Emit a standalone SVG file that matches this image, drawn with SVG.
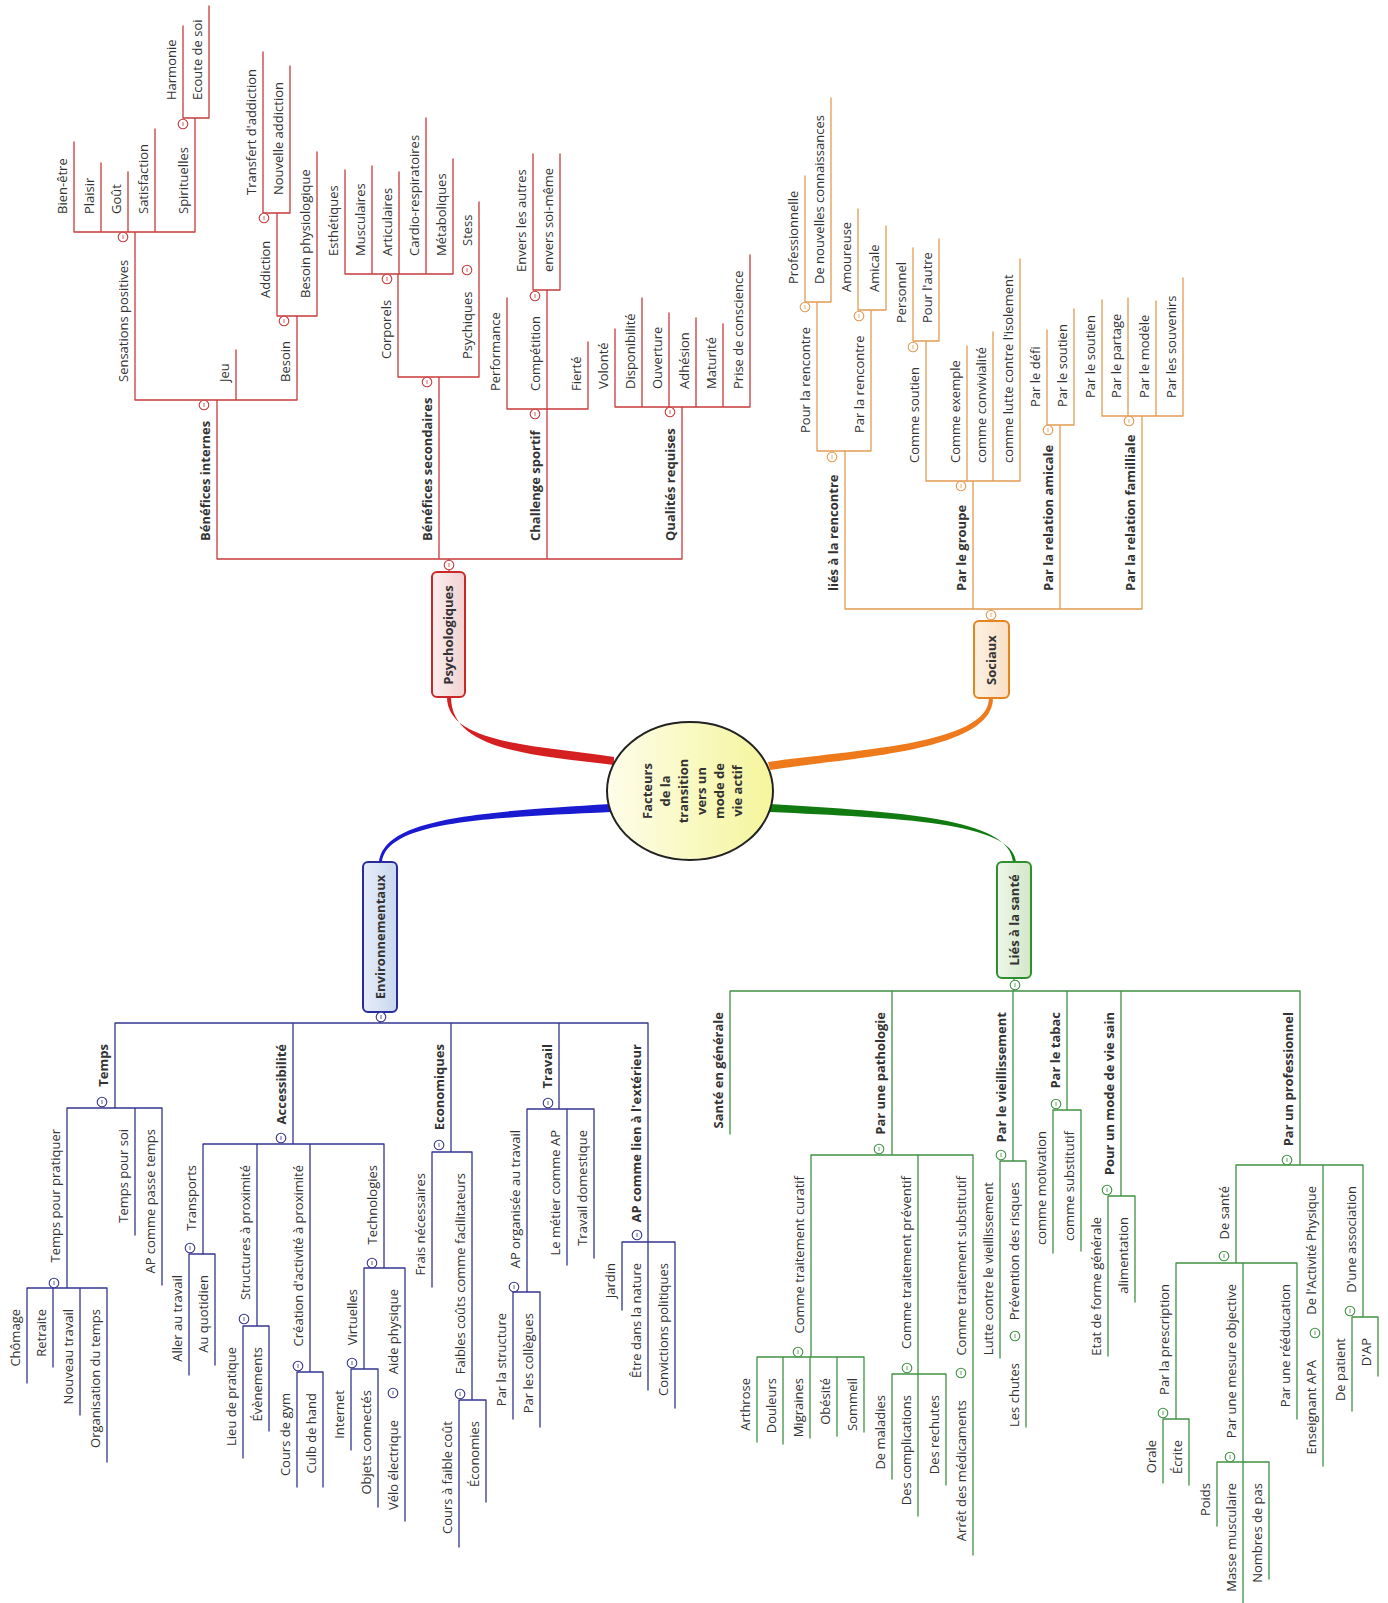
<svg xmlns="http://www.w3.org/2000/svg" xmlns:xlink="http://www.w3.org/1999/xlink" width="1388" height="1603" viewBox="0 0 1388 1603">
<style>
text{font-family:"Open Sans","DejaVu Sans",sans-serif;font-size:13px;fill:#333}
.b{font-weight:bold}
.e{text-anchor:end}
.m{text-anchor:middle}
.red{color:#c83a3a}.org{color:#e39a52}.blu{color:#35358f}.grn{color:#3f9142}
.ln path{fill:none;stroke-width:1.3;stroke-linecap:round}
</style>
<defs>
<g id="cm"><circle r="4.8" fill="#fff" stroke="currentColor" stroke-width="1.1"/><line x1="0" y1="-2" x2="0" y2="2" stroke="currentColor" stroke-width="0.8"/></g>
<linearGradient id="gc" x1="0" y1="0" x2="1" y2="0"><stop offset="0" stop-color="#fdfdea"/><stop offset="1" stop-color="#f5f59c"/></linearGradient>
<linearGradient id="gr" x1="0" y1="0" x2="1" y2="0"><stop offset="0" stop-color="#fbeeee"/><stop offset="1" stop-color="#f1d2d2"/></linearGradient>
<linearGradient id="go" x1="0" y1="0" x2="1" y2="0"><stop offset="0" stop-color="#fdf1e4"/><stop offset="1" stop-color="#f9dfc4"/></linearGradient>
<linearGradient id="gb" x1="0" y1="0" x2="1" y2="0"><stop offset="0" stop-color="#e6edf8"/><stop offset="1" stop-color="#c8d7ef"/></linearGradient>
<linearGradient id="gg" x1="0" y1="0" x2="1" y2="0"><stop offset="0" stop-color="#eef6ea"/><stop offset="1" stop-color="#d3e7c8"/></linearGradient>
</defs>
<rect width="1388" height="1603" fill="#fff"/>
<g id="connectors" class="ln">
<path stroke="none" style="fill:#d42020" d="M447,697 C447,745 540,745 614,757 L614,765 C538,755 451,752 451,697 Z"/>
<path style="fill:#ee7a1c" stroke="none" d="M989,698 C989,745 850,750 768,762 L770,770 C852,757 993,752 993,698 Z"/>
<path style="fill:#1a1ad0" stroke="none" d="M611,804 C480,812 384,818 379,862 L382,862 C387,822 482,818 611,812 Z"/>
<path style="fill:#117a11" stroke="none" d="M770,804 C900,812 1010,818 1013,862 L1016,862 C1013,822 898,818 770,812 Z"/>
<g class="red"><path stroke="currentColor" d="M217 559 H682 M449 559 V572 M217 559 V400 M439 559 V377 M547 559 V409 M682 559 V407 M135 400 H297 M135 400 V232 M236 400 V350 M297 400 V316 M74 232 H195 M74 232 V142 M101 232 V163 M128 232 V172 M155 232 V129 M195 232 V118 M183 118 H209 M183 118 V26 M209 118 V6 M277 316 H317 M277 316 V213 M317 316 V152 M263 213 H290 M263 213 V52 M290 213 V66 M398 377 H479 M398 377 V274 M479 377 V202 M345 274 H453 M345 274 V170 M372 274 V166 M399 274 V172 M426 274 V118 M453 274 V159 M507 409 H588 M507 409 V298 M547 409 V290 M588 409 V342 M533 290 H560 M533 290 V154 M560 290 V154 M615 407 H750 M615 407 V329 M642 407 V298 M669 407 V313 M696 407 V318 M723 407 V324 M750 407 V255"/></g>
<g class="org"><path stroke="currentColor" d="M845 609 H1142 M991 609 V621 M845 609 V451 M973 609 V481 M1060 609 V425 M1142 609 V416 M817 451 H871 M817 451 V302 M871 451 V310 M805 302 H831 M805 302 V176 M831 302 V98 M858 310 H886 M858 310 V209 M886 310 V226 M926 481 H1020 M926 481 V341 M967 481 V346 M993 481 V332 M1020 481 V259 M913 341 H939 M913 341 V248 M939 341 V239 M1047 425 H1074 M1047 425 V330 M1074 425 V309 M1102 416 H1183 M1102 416 V300 M1128 416 V298 M1156 416 V301 M1183 416 V278"/></g>
<g class="blu"><path stroke="currentColor" d="M115 1023 H648 M380 1012 V1023 M115 1023 V1108 M293 1023 V1144 M451 1023 V1152 M559 1023 V1109 M648 1023 V1242 M67 1108 H162 M67 1108 V1288 M135 1108 V1235 M162 1108 V1285 M27 1288 H107 M27 1288 V1383 M53 1288 V1367 M80 1288 V1415 M107 1288 V1462 M203 1144 H384 M203 1144 V1254 M257 1144 V1326 M310 1144 V1372 M384 1144 V1268 M189 1254 H215 M189 1254 V1375 M215 1254 V1365 M243 1326 H269 M243 1326 V1458 M269 1326 V1431 M297 1372 H323 M297 1372 V1487 M323 1372 V1487 M364 1268 H405 M364 1268 V1369 M405 1268 V1521 M351 1369 H378 M351 1369 V1450 M378 1369 V1507 M432 1152 H472 M432 1152 V1287 M472 1152 V1400 M459 1400 H486 M459 1400 V1547 M486 1400 V1502 M527 1109 H594 M527 1109 V1292 M567 1109 V1265 M594 1109 V1258 M513 1292 H540 M513 1292 V1419 M540 1292 V1427 M622 1242 H675 M622 1242 V1310 M648 1242 V1390 M675 1242 V1408"/></g>
<g class="grn"><path stroke="currentColor" d="M730 991 H1300 M1014 978 V991 M730 991 V1134 M892 991 V1155 M1013 991 V1161 M1067 991 V1110 M1121 991 V1196 M1300 991 V1165 M811 1155 H973 M811 1155 V1357 M918 1155 V1374 M973 1155 V1555 M757 1357 H864 M757 1357 V1442 M783 1357 V1444 M810 1357 V1438 M837 1357 V1436 M864 1357 V1432 M892 1374 H946 M892 1374 V1479 M918 1374 V1516 M946 1374 V1485 M1000 1161 H1026 M1000 1161 V1358 M1026 1161 V1427 M1053 1110 H1081 M1053 1110 V1253 M1081 1110 V1251 M1108 1196 H1135 M1108 1196 V1356 M1135 1196 V1302 M1236 1165 H1363 M1236 1165 V1263 M1323 1165 V1466 M1363 1165 V1317 M1352 1317 H1378 M1352 1317 V1411 M1378 1317 V1376 M1176 1263 H1297 M1176 1263 V1419 M1243 1263 V1462 M1297 1263 V1419 M1163 1419 H1189 M1163 1419 V1483 M1189 1419 V1485 M1217 1462 H1269 M1217 1462 V1526 M1243 1462 V1603 M1269 1462 V1579"/></g>
</g>
<g id="root"><ellipse cx="690" cy="791" rx="83" ry="69" fill="url(#gc)" stroke="#222" stroke-width="2"/>
<text class="b m" x="652" y="791" transform="rotate(-90 652 791)">Facteurs</text>
<text class="b m" x="670" y="791" transform="rotate(-90 670 791)">de la</text>
<text class="b m" x="688" y="791" transform="rotate(-90 688 791)">transition</text>
<text class="b m" x="706" y="791" transform="rotate(-90 706 791)">vers un</text>
<text class="b m" x="724" y="791" transform="rotate(-90 724 791)">mode de</text>
<text class="b m" x="742" y="791" transform="rotate(-90 742 791)">vie actif</text></g>
<g id="psychologiques" class="red"><rect x="432" y="572" width="33" height="125" rx="5" fill="url(#gr)" stroke="#c82828" stroke-width="2"/><text class="b m" x="453" y="635" transform="rotate(-90 453 635)">Psychologiques</text><use xlink:href="#cm" x="449" y="565"/></g>
<g id="sociaux" class="org"><rect x="974" y="621" width="35" height="77" rx="5" fill="url(#go)" stroke="#e8821e" stroke-width="2"/><text class="b m" x="996" y="660" transform="rotate(-90 996 660)">Sociaux</text><use xlink:href="#cm" x="991" y="615"/></g>
<g id="environnementaux" class="blu"><rect x="363" y="862" width="34" height="150" rx="5" fill="url(#gb)" stroke="#2a2aa0" stroke-width="2"/><text class="b m" x="385" y="937" transform="rotate(-90 385 937)">Environnementaux</text><use xlink:href="#cm" x="381" y="1017"/></g>
<g id="sante" class="grn"><rect x="997" y="862" width="34" height="116" rx="5" fill="url(#gg)" stroke="#2f8f2f" stroke-width="2"/><text class="b m" x="1019" y="920" transform="rotate(-90 1019 920)">Liés à la santé</text><use xlink:href="#cm" x="1015" y="985"/></g>
<g class="red">
<g id="p1"><text class="b" x="210" y="541" transform="rotate(-90 210 541)">Bénéfices internes</text><use xlink:href="#cm" x="204" y="405"/></g>
<g id="p2"><text class="b" x="432" y="541" transform="rotate(-90 432 541)">Bénéfices secondaires</text><use xlink:href="#cm" x="427" y="382"/></g>
<g id="p3"><text class="b" x="540" y="541" transform="rotate(-90 540 541)">Challenge sportif</text><use xlink:href="#cm" x="535" y="414"/></g>
<g id="p4"><text class="b" x="675" y="541" transform="rotate(-90 675 541)">Qualités requises</text><use xlink:href="#cm" x="670" y="412"/></g>
<g id="p11"><text x="128" y="382" transform="rotate(-90 128 382)">Sensations positives</text><use xlink:href="#cm" x="123" y="237"/></g>
<g id="p12"><text x="229" y="382" transform="rotate(-90 229 382)">Jeu</text></g>
<g id="p13"><text x="290" y="382" transform="rotate(-90 290 382)">Besoin</text><use xlink:href="#cm" x="284" y="321"/></g>
<g id="p111"><text x="67" y="214" transform="rotate(-90 67 214)">Bien-être</text></g>
<g id="p112"><text x="94" y="214" transform="rotate(-90 94 214)">Plaisir</text></g>
<g id="p113"><text x="121" y="214" transform="rotate(-90 121 214)">Goût</text></g>
<g id="p114"><text x="148" y="214" transform="rotate(-90 148 214)">Satisfaction</text></g>
<g id="p115"><text x="188" y="214" transform="rotate(-90 188 214)">Spirituelles</text><use xlink:href="#cm" x="183" y="124"/></g>
<g id="p1151"><text x="176" y="100" transform="rotate(-90 176 100)">Harmonie</text></g>
<g id="p1152"><text x="202" y="100" transform="rotate(-90 202 100)">Ecoute de soi</text></g>
<g id="p131"><text x="270" y="298" transform="rotate(-90 270 298)">Addiction</text><use xlink:href="#cm" x="264" y="218"/></g>
<g id="p132"><text x="310" y="298" transform="rotate(-90 310 298)">Besoin physiologique</text></g>
<g id="p1311"><text x="256" y="195" transform="rotate(-90 256 195)">Transfert d'addiction</text></g>
<g id="p1312"><text x="283" y="195" transform="rotate(-90 283 195)">Nouvelle addiction</text></g>
<g id="p21"><text x="391" y="359" transform="rotate(-90 391 359)">Corporels</text><use xlink:href="#cm" x="387" y="279"/></g>
<g id="p22"><text x="472" y="359" transform="rotate(-90 472 359)">Psychiques</text><use xlink:href="#cm" x="467" y="270"/></g>
<g id="p221"><text x="472" y="246" transform="rotate(-90 472 246)">Stess</text></g>
<g id="p211"><text x="338" y="256" transform="rotate(-90 338 256)">Esthétiques</text></g>
<g id="p212"><text x="365" y="256" transform="rotate(-90 365 256)">Musculaires</text></g>
<g id="p213"><text x="392" y="256" transform="rotate(-90 392 256)">Articulaires</text></g>
<g id="p214"><text x="419" y="256" transform="rotate(-90 419 256)">Cardio-respiratoires</text></g>
<g id="p215"><text x="446" y="256" transform="rotate(-90 446 256)">Métaboliques</text></g>
<g id="p31"><text x="500" y="391" transform="rotate(-90 500 391)">Performance</text></g>
<g id="p32"><text x="540" y="391" transform="rotate(-90 540 391)">Compétition</text><use xlink:href="#cm" x="535" y="296"/></g>
<g id="p33"><text x="581" y="391" transform="rotate(-90 581 391)">Fierté</text></g>
<g id="p321"><text x="526" y="272" transform="rotate(-90 526 272)">Envers les autres</text></g>
<g id="p322"><text x="553" y="272" transform="rotate(-90 553 272)">envers soi-même</text></g>
<g id="p41"><text x="608" y="389" transform="rotate(-90 608 389)">Volonté</text></g>
<g id="p42"><text x="635" y="389" transform="rotate(-90 635 389)">Disponibilité</text></g>
<g id="p43"><text x="662" y="389" transform="rotate(-90 662 389)">Ouverture</text></g>
<g id="p44"><text x="689" y="389" transform="rotate(-90 689 389)">Adhésion</text></g>
<g id="p45"><text x="716" y="389" transform="rotate(-90 716 389)">Maturité</text></g>
<g id="p46"><text x="743" y="389" transform="rotate(-90 743 389)">Prise de conscience</text></g>
</g>
<g class="org">
<g id="s1"><text class="b" x="838" y="591" transform="rotate(-90 838 591)">liés à la rencontre</text><use xlink:href="#cm" x="832" y="457"/></g>
<g id="s2"><text class="b" x="966" y="591" transform="rotate(-90 966 591)">Par le groupe</text><use xlink:href="#cm" x="961" y="486"/></g>
<g id="s3"><text class="b" x="1053" y="591" transform="rotate(-90 1053 591)">Par la relation amicale</text><use xlink:href="#cm" x="1048" y="430"/></g>
<g id="s4"><text class="b" x="1135" y="591" transform="rotate(-90 1135 591)">Par la relation familliale</text><use xlink:href="#cm" x="1129" y="421"/></g>
<g id="s11"><text x="810" y="433" transform="rotate(-90 810 433)">Pour la rencontre</text><use xlink:href="#cm" x="805" y="307"/></g>
<g id="s12"><text x="864" y="433" transform="rotate(-90 864 433)">Par la rencontre</text><use xlink:href="#cm" x="859" y="316"/></g>
<g id="s111"><text x="798" y="284" transform="rotate(-90 798 284)">Professionnelle</text></g>
<g id="s112"><text x="824" y="284" transform="rotate(-90 824 284)">De nouvelles connaissances</text></g>
<g id="s121"><text x="851" y="292" transform="rotate(-90 851 292)">Amoureuse</text></g>
<g id="s122"><text x="879" y="292" transform="rotate(-90 879 292)">Amicale</text></g>
<g id="s21"><text x="919" y="463" transform="rotate(-90 919 463)">Comme soutien</text><use xlink:href="#cm" x="913" y="347"/></g>
<g id="s22"><text x="960" y="463" transform="rotate(-90 960 463)">Comme exemple</text></g>
<g id="s23"><text x="986" y="463" transform="rotate(-90 986 463)">comme convivialité</text></g>
<g id="s24"><text x="1013" y="463" transform="rotate(-90 1013 463)">comme lutte contre l'isolement</text></g>
<g id="s211"><text x="906" y="323" transform="rotate(-90 906 323)">Personnel</text></g>
<g id="s212"><text x="932" y="323" transform="rotate(-90 932 323)">Pour l'autre</text></g>
<g id="s31"><text x="1040" y="407" transform="rotate(-90 1040 407)">Par le défi</text></g>
<g id="s32"><text x="1067" y="407" transform="rotate(-90 1067 407)">Par le soutien</text></g>
<g id="s41"><text x="1095" y="398" transform="rotate(-90 1095 398)">Par le soutien</text></g>
<g id="s42"><text x="1121" y="398" transform="rotate(-90 1121 398)">Par le partage</text></g>
<g id="s43"><text x="1149" y="398" transform="rotate(-90 1149 398)">Par le modèle</text></g>
<g id="s44"><text x="1176" y="398" transform="rotate(-90 1176 398)">Par les souvenirs</text></g>
</g>
<g class="blu">
<g id="e1"><text class="b e" x="108" y="1044" transform="rotate(-90 108 1044)">Temps</text><use xlink:href="#cm" x="102" y="1102"/></g>
<g id="e2"><text class="b e" x="286" y="1044" transform="rotate(-90 286 1044)">Accessibilité</text><use xlink:href="#cm" x="281" y="1138"/></g>
<g id="e3"><text class="b e" x="444" y="1044" transform="rotate(-90 444 1044)">Economiques</text><use xlink:href="#cm" x="439" y="1145"/></g>
<g id="e4"><text class="b e" x="552" y="1044" transform="rotate(-90 552 1044)">Travail</text><use xlink:href="#cm" x="548" y="1103"/></g>
<g id="e5"><text class="b e" x="641" y="1044" transform="rotate(-90 641 1044)">AP comme lien à l'extérieur</text><use xlink:href="#cm" x="637" y="1235"/></g>
<g id="e11"><text class="e" x="60" y="1129" transform="rotate(-90 60 1129)">Temps pour pratiquer</text><use xlink:href="#cm" x="54" y="1283"/></g>
<g id="e12"><text class="e" x="128" y="1129" transform="rotate(-90 128 1129)">Temps pour soi</text></g>
<g id="e13"><text class="e" x="155" y="1129" transform="rotate(-90 155 1129)">AP comme passe temps</text></g>
<g id="e111"><text class="e" x="20" y="1309" transform="rotate(-90 20 1309)">Chômage</text></g>
<g id="e112"><text class="e" x="46" y="1309" transform="rotate(-90 46 1309)">Retraite</text></g>
<g id="e113"><text class="e" x="73" y="1309" transform="rotate(-90 73 1309)">Nouveau travail</text></g>
<g id="e114"><text class="e" x="100" y="1309" transform="rotate(-90 100 1309)">Organisation du temps</text></g>
<g id="e21"><text class="e" x="196" y="1165" transform="rotate(-90 196 1165)">Transports</text><use xlink:href="#cm" x="190" y="1248"/></g>
<g id="e22"><text class="e" x="250" y="1165" transform="rotate(-90 250 1165)">Structures à proximité</text><use xlink:href="#cm" x="244" y="1319"/></g>
<g id="e23"><text class="e" x="303" y="1165" transform="rotate(-90 303 1165)">Création d'activité à proximité</text><use xlink:href="#cm" x="298" y="1366"/></g>
<g id="e24"><text class="e" x="377" y="1165" transform="rotate(-90 377 1165)">Technologies</text><use xlink:href="#cm" x="372" y="1263"/></g>
<g id="e211"><text class="e" x="182" y="1275" transform="rotate(-90 182 1275)">Aller au travail</text></g>
<g id="e212"><text class="e" x="208" y="1275" transform="rotate(-90 208 1275)">Au quotidien</text></g>
<g id="e221"><text class="e" x="236" y="1347" transform="rotate(-90 236 1347)">Lieu de pratique</text></g>
<g id="e222"><text class="e" x="262" y="1347" transform="rotate(-90 262 1347)">Évènements</text></g>
<g id="e231"><text class="e" x="290" y="1393" transform="rotate(-90 290 1393)">Cours de gym</text></g>
<g id="e232"><text class="e" x="316" y="1393" transform="rotate(-90 316 1393)">Culb de hand</text></g>
<g id="e241"><text class="e" x="357" y="1289" transform="rotate(-90 357 1289)">Virtuelles</text><use xlink:href="#cm" x="352" y="1363"/></g>
<g id="e242"><text class="e" x="398" y="1289" transform="rotate(-90 398 1289)">Aide physique</text><use xlink:href="#cm" x="393" y="1393"/></g>
<g id="e2421"><text class="e" x="398" y="1420" transform="rotate(-90 398 1420)">Vélo électrique</text></g>
<g id="e2411"><text class="e" x="344" y="1390" transform="rotate(-90 344 1390)">Internet</text></g>
<g id="e2412"><text class="e" x="371" y="1390" transform="rotate(-90 371 1390)">Objets connectés</text></g>
<g id="e31"><text class="e" x="425" y="1173" transform="rotate(-90 425 1173)">Frais nécessaires</text></g>
<g id="e32"><text class="e" x="465" y="1173" transform="rotate(-90 465 1173)">Faibles coûts comme facilitateurs</text><use xlink:href="#cm" x="460" y="1394"/></g>
<g id="e321"><text class="e" x="452" y="1421" transform="rotate(-90 452 1421)">Cours à faible coût</text></g>
<g id="e322"><text class="e" x="479" y="1421" transform="rotate(-90 479 1421)">Économies</text></g>
<g id="e41"><text class="e" x="520" y="1130" transform="rotate(-90 520 1130)">AP organisée au travail</text><use xlink:href="#cm" x="514" y="1287"/></g>
<g id="e42"><text class="e" x="560" y="1130" transform="rotate(-90 560 1130)">Le métier comme AP</text></g>
<g id="e43"><text class="e" x="587" y="1130" transform="rotate(-90 587 1130)">Travail domestique</text></g>
<g id="e411"><text class="e" x="506" y="1313" transform="rotate(-90 506 1313)">Par la structure</text></g>
<g id="e412"><text class="e" x="533" y="1313" transform="rotate(-90 533 1313)">Par les collègues</text></g>
<g id="e51"><text class="e" x="615" y="1263" transform="rotate(-90 615 1263)">Jardin</text></g>
<g id="e52"><text class="e" x="641" y="1263" transform="rotate(-90 641 1263)">Être dans la nature</text></g>
<g id="e53"><text class="e" x="668" y="1263" transform="rotate(-90 668 1263)">Convictions politiques</text></g>
</g>
<g class="grn">
<g id="h1"><text class="b e" x="723" y="1012" transform="rotate(-90 723 1012)">Santé en générale</text></g>
<g id="h2"><text class="b e" x="885" y="1012" transform="rotate(-90 885 1012)">Par une pathologie</text><use xlink:href="#cm" x="879" y="1149"/></g>
<g id="h3"><text class="b e" x="1006" y="1012" transform="rotate(-90 1006 1012)">Par le vieillissement</text><use xlink:href="#cm" x="1001" y="1155"/></g>
<g id="h4"><text class="b e" x="1060" y="1012" transform="rotate(-90 1060 1012)">Par le tabac</text><use xlink:href="#cm" x="1056" y="1104"/></g>
<g id="h5"><text class="b e" x="1114" y="1012" transform="rotate(-90 1114 1012)">Pour un mode de vie sain</text><use xlink:href="#cm" x="1107" y="1190"/></g>
<g id="h6"><text class="b e" x="1293" y="1012" transform="rotate(-90 1293 1012)">Par un professionnel</text><use xlink:href="#cm" x="1287" y="1160"/></g>
<g id="h21"><text class="e" x="804" y="1176" transform="rotate(-90 804 1176)">Comme traitement curatif</text><use xlink:href="#cm" x="798" y="1352"/></g>
<g id="h22"><text class="e" x="911" y="1176" transform="rotate(-90 911 1176)">Comme traitement préventif</text><use xlink:href="#cm" x="907" y="1368"/></g>
<g id="h23"><text class="e" x="966" y="1176" transform="rotate(-90 966 1176)">Comme traitement substitutif</text><use xlink:href="#cm" x="961" y="1373"/></g>
<g id="h231"><text class="e" x="966" y="1400" transform="rotate(-90 966 1400)">Arrêt des médicaments</text></g>
<g id="h211"><text class="e" x="750" y="1378" transform="rotate(-90 750 1378)">Arthrose</text></g>
<g id="h212"><text class="e" x="776" y="1378" transform="rotate(-90 776 1378)">Douleurs</text></g>
<g id="h213"><text class="e" x="803" y="1378" transform="rotate(-90 803 1378)">Migraines</text></g>
<g id="h214"><text class="e" x="830" y="1378" transform="rotate(-90 830 1378)">Obésité</text></g>
<g id="h215"><text class="e" x="857" y="1378" transform="rotate(-90 857 1378)">Sommeil</text></g>
<g id="h221"><text class="e" x="885" y="1395" transform="rotate(-90 885 1395)">De maladies</text></g>
<g id="h222"><text class="e" x="911" y="1395" transform="rotate(-90 911 1395)">Des complications</text></g>
<g id="h223"><text class="e" x="939" y="1395" transform="rotate(-90 939 1395)">Des rechutes</text></g>
<g id="h31"><text class="e" x="993" y="1182" transform="rotate(-90 993 1182)">Lutte contre le vieillissement</text></g>
<g id="h32"><text class="e" x="1019" y="1182" transform="rotate(-90 1019 1182)">Prévention des risques</text><use xlink:href="#cm" x="1015" y="1336"/></g>
<g id="h321"><text class="e" x="1019" y="1363" transform="rotate(-90 1019 1363)">Les chutes</text></g>
<g id="h41"><text class="e" x="1046" y="1131" transform="rotate(-90 1046 1131)">comme motivation</text></g>
<g id="h42"><text class="e" x="1074" y="1131" transform="rotate(-90 1074 1131)">comme substitutif</text></g>
<g id="h51"><text class="e" x="1101" y="1217" transform="rotate(-90 1101 1217)">Etat de forme générale</text></g>
<g id="h52"><text class="e" x="1128" y="1217" transform="rotate(-90 1128 1217)">alimentation</text></g>
<g id="h61"><text class="e" x="1229" y="1186" transform="rotate(-90 1229 1186)">De santé</text><use xlink:href="#cm" x="1224" y="1256"/></g>
<g id="h62"><text class="e" x="1316" y="1186" transform="rotate(-90 1316 1186)">De l'Activité Physique</text><use xlink:href="#cm" x="1315" y="1333"/></g>
<g id="h621"><text class="e" x="1316" y="1360" transform="rotate(-90 1316 1360)">Enseignant APA</text></g>
<g id="h63"><text class="e" x="1356" y="1186" transform="rotate(-90 1356 1186)">D'une association</text><use xlink:href="#cm" x="1350" y="1311"/></g>
<g id="h631"><text class="e" x="1345" y="1338" transform="rotate(-90 1345 1338)">De patient</text></g>
<g id="h632"><text class="e" x="1371" y="1338" transform="rotate(-90 1371 1338)">D'AP</text></g>
<g id="h611"><text class="e" x="1169" y="1284" transform="rotate(-90 1169 1284)">Par la prescription</text><use xlink:href="#cm" x="1163" y="1413"/></g>
<g id="h612"><text class="e" x="1236" y="1284" transform="rotate(-90 1236 1284)">Par une mesure objective</text><use xlink:href="#cm" x="1230" y="1457"/></g>
<g id="h613"><text class="e" x="1290" y="1284" transform="rotate(-90 1290 1284)">Par une rééducation</text></g>
<g id="h6111"><text class="e" x="1156" y="1440" transform="rotate(-90 1156 1440)">Orale</text></g>
<g id="h6112"><text class="e" x="1182" y="1440" transform="rotate(-90 1182 1440)">Écrite</text></g>
<g id="h6121"><text class="e" x="1210" y="1483" transform="rotate(-90 1210 1483)">Poids</text></g>
<g id="h6122"><text class="e" x="1236" y="1483" transform="rotate(-90 1236 1483)">Masse musculaire</text></g>
<g id="h6123"><text class="e" x="1262" y="1483" transform="rotate(-90 1262 1483)">Nombres de pas</text></g>
</g>
</svg>
